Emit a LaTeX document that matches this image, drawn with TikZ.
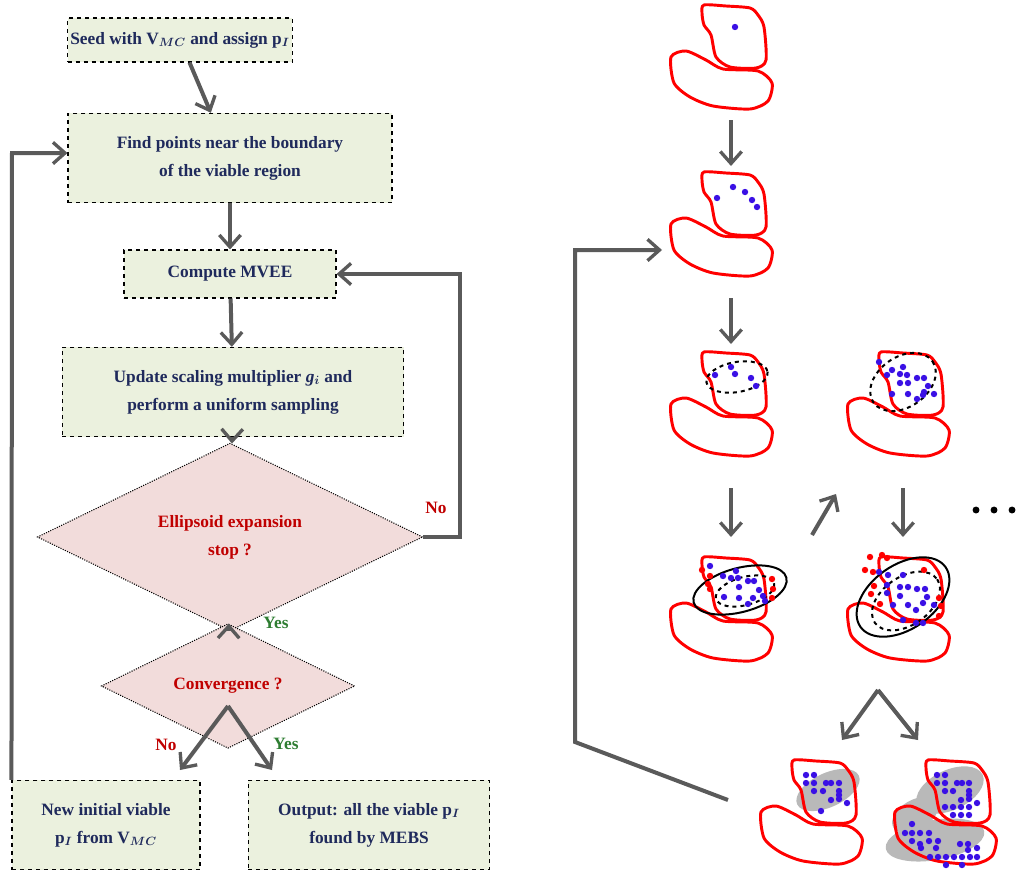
\documentclass[tikz,border=0pt]{standalone}
\usepackage{amsmath}
\usepackage{fontspec}
\setmainfont{Liberation Serif}
\usetikzlibrary{arrows.meta,positioning,shapes.geometric,calc}
\definecolor{boxfill}{HTML}{EBF1DE}
\definecolor{dfill}{HTML}{F2DCDB}
\definecolor{navy}{HTML}{1F2A5C}
\definecolor{dred}{HTML}{C00000}
\definecolor{dgreen}{HTML}{2E7D32}
\definecolor{arr}{HTML}{5A5A5A}
\definecolor{dotblue}{HTML}{3A10E5}
\tikzset{
	stepbox/.style={draw, dashed, thick, fill=boxfill, align=center, text=navy,
		font=\fontsize{13}{21}\selectfont\bfseries, inner sep=2pt},
	testbox/.style={diamond, draw, densely dotted, thick, fill=dfill, align=center, text=dred,
		font=\fontsize{13}{21}\selectfont\bfseries, inner sep=0pt},
	flow/.style={draw=arr, line width=3pt, -{Straight Barb[length=9pt,width=16pt,line width=2.5pt]}},
	lab/.style={font=\fontsize{13}{16}\selectfont\bfseries},
	blob/.style={draw=red, line width=2.2pt},
	bdot/.style={fill=dotblue},
	rdot/.style={fill=red},
	% upper and lower regions of the viable set
	cell/.pic={
		\path[blob] plot[smooth cycle, tension=0.45] coordinates {(36,0) (58,1) (82,3) (90,10) (96,22) (98,55) (88,63) (62,62) (48,52) (43,30) (36,20) (34,8)};
		\path[blob] plot[smooth cycle, tension=0.45] coordinates {(3,52) (18,46) (38,55) (55,64) (90,66) (104,78) (100,96) (82,104) (45,101) (22,92) (6,78)};
	}
}
\begin{document}
\begin{tikzpicture}[x=0.75pt, y=-0.75pt]
\useasboundingbox (0,0) rectangle (1024,882);
% flowchart
\node[stepbox, minimum width=168pt, minimum height=33pt] (seed) at (180,40) {Seed with V$_{\boldsymbol{MC}}$ and assign p$_{\boldsymbol{I}}$};
\node[stepbox, minimum width=243pt, minimum height=67pt] (find) at (230,158) {Find points near the boundary\\of the viable region};
\node[stepbox, minimum width=159pt, minimum height=36pt] (mvee) at (230,274) {Compute MVEE};
\node[stepbox, minimum width=256pt, minimum height=67pt] (upd) at (233,392) {Update scaling multiplier \textit{g$_{\boldsymbol{i}}$} and\\perform a uniform sampling};
\node[testbox, minimum width=289pt, minimum height=88pt] (stop) at (230,537) {Ellipsoid expansion\\stop ?};
\node[testbox, minimum width=190pt, minimum height=62pt] (conv) at (228,686) {Convergence ?};
\node[stepbox, minimum width=141pt, minimum height=67pt] (newp) at (106,825) {New initial viable\\p$_{\boldsymbol{I}}$ from V$_{\boldsymbol{MC}}$};
\node[stepbox, minimum width=181pt, minimum height=67pt] (out) at (369,825) {Output: all the viable p$_{\boldsymbol{I}}$\\found by MEBS};
\coordinate (split) at (228,706);
\draw[flow] (seed) -- (find);
\draw[flow] (find) -- (mvee);
\draw[flow] (mvee) -- (upd);
\draw[flow] (upd) -- (stop);
\draw[flow] (stop) -- (conv);
\draw[flow] (split) -- (180,770);
\draw[flow] (split) -- (272,770);
\draw[flow] (stop.east) -- (460,537) -- (460,274) -- (mvee.east);
\draw[flow] (newp.north west) -- (12,153) -- (find.west |- 0,153);
\node[lab, text=dred] at (436,508) {No};
\node[lab, text=dgreen] at (276,623) {Yes};
\node[lab, text=dred] at (166,745) {No};
\node[lab, text=dgreen] at (286,744) {Yes};
% sketches of the sampling
\pic at (668,5) {cell};
\pic at (668,172) {cell};
\pic at (668,352) {cell};
\pic at (845,352) {cell};
\pic at (668,557) {cell};
\pic at (845,557) {cell};
\fill[gray!55] (828,790) ellipse[x radius=34, y radius=17, rotate=25];
\fill[gray!55] (950,790) ellipse[x radius=36, y radius=20, rotate=25];
\fill[gray!55] (935,840) ellipse[x radius=50, y radius=20, rotate=10];
\fill[gray!55] (915,815) ellipse[x radius=25, y radius=15, rotate=30];
\pic at (758,760) {cell};
\pic at (892,760) {cell};
% ellipses
\draw[dashed, line width=1.5pt] (737,377) ellipse[x radius=31, y radius=15, rotate=10];
\draw[dashed, line width=1.5pt] (903,382) ellipse[x radius=36, y radius=25, rotate=35];
\draw[line width=1.5pt] (740,590) ellipse[x radius=48, y radius=22, rotate=15];
\draw[dashed, line width=1.5pt] (745,591) ellipse[x radius=30, y radius=14, rotate=15];
\draw[line width=1.5pt] (903,597) ellipse[x radius=52, y radius=32, rotate=35];
\draw[dashed, line width=1.5pt] (906,601) ellipse[x radius=38, y radius=24, rotate=35];
% samples
\foreach \p in {(735,27), (733,187),(745,192),(717,198),(752,200),(757,207),
	(731,367),(715,375),(735,374),(751,378),(756,386),
	(879,362),(892,370),(903,367),(887,375),(900,374),(907,375),(917,378),(924,378),(900,383),(908,383),(928,386),(924,392),(923,395),(892,394),(908,394),(917,399),(934,394),
	(710,566),(723,576),(736,571),(731,578),(738,578),(748,581),(754,581),(739,587),(759,590),(724,597),(739,598),(753,598),(763,596),(765,601),(748,604),
	(879,572),(888,575),(903,575),(887,585),(900,587),(908,587),(917,589),(925,589),(887,593),(900,596),(927,597),(923,603),(893,605),(908,605),(916,610),(934,605),(903,620),(916,623),(923,623),
	(806,775),(814,775),(806,783),(814,783),(826,783),(831,783),(839,783),(814,791),(823,791),(839,791),(839,795),(839,799),(831,800),(847,803),(821,811),
	(937,775),(945,775),(937,783),(945,783),(957,783),(962,783),(969,783),(945,791),(953,791),(969,791),(969,795),(969,799),(961,800),(977,803),(945,807),(953,807),(961,807),(969,807),(953,815),(961,815),(969,815),
	(912,824),(905,833),(912,833),(920,833),(929,833),(912,841),(920,844),(929,841),(938,841),(921,848),(936,848),(960,844),(968,844),(968,850),(977,848),(930,857),(938,857),(946,857),(954,857),(962,857),(970,857),(977,857),(946,865),(962,865)}
	\fill[bdot] \p circle[radius=2.4pt];
\foreach \p in {(702,570),(710,576),(708,584),(710,589),(772,579),(773,589),(772,598),
	(870,557),(882,555),(887,558),(865,570),(873,572),(874,586),(871,594),(880,604),(924,570),(939,598),(941,606),(939,616)}
	\fill[rdot] \p circle[radius=2.4pt];
% arrows between the sketches
\coordinate (a1) at (731,120); \coordinate (b1) at (731,166);
\coordinate (a2) at (731,298); \coordinate (b2) at (731,344);
\coordinate (a3) at (731,488); \coordinate (b3) at (731,537);
\coordinate (a4) at (903,488); \coordinate (b4) at (903,537);
\coordinate (a5) at (812,535); \coordinate (b5) at (836,494);
\coordinate (fork) at (878,690);
\draw[flow] (a1) -- (b1);
\draw[flow] (a2) -- (b2);
\draw[flow] (a3) -- (b3);
\draw[flow] (a4) -- (b4);
\draw[flow] (a5) -- (b5);
\draw[flow] (fork) -- (842,740);
\draw[flow] (fork) -- (918,740);
\coordinate (back) at (728,800);
\draw[flow] (back) -- (575,742) -- (575,250) -- (662,250);
\foreach \x in {976,994,1012} \fill (\x,510) circle[radius=2.6pt];
\end{tikzpicture}
\end{document}
